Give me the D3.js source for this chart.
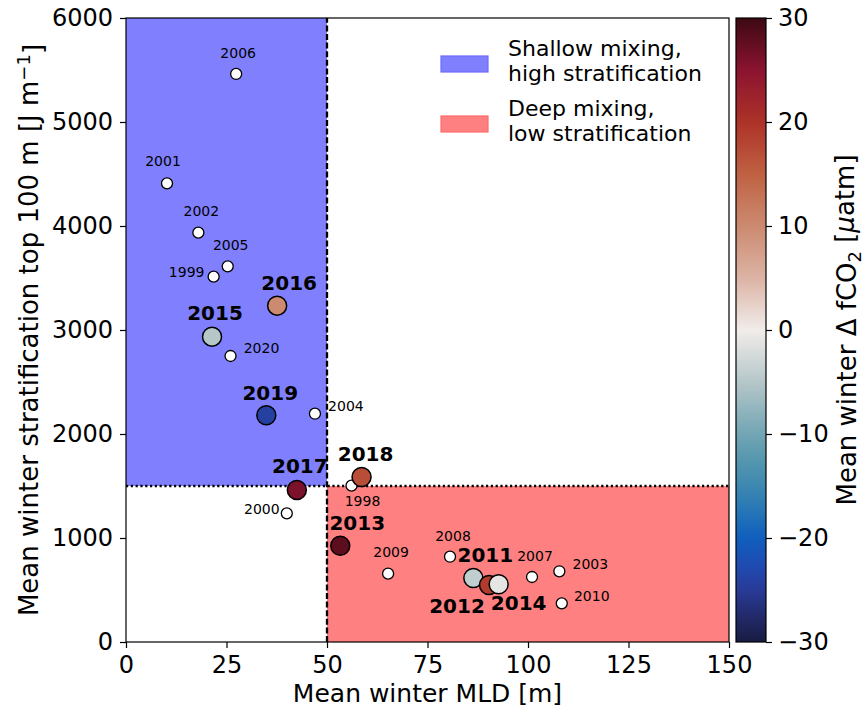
<!DOCTYPE html>
<html>
<head>
<meta charset="utf-8">
<script src="https://cdn.jsdelivr.net/npm/d3@7"></script>
<style>
  body { margin: 0; background: #fff; }
  text { font-family: "DejaVu Sans", sans-serif; fill: #000; }
</style>
</head>
<body>
<svg id="chart" width="865" height="711"></svg>
<script>
// Winter mixing vs. stratification, one point per year
const years = [1998, 1999, 2000, 2001, 2002, 2003, 2004, 2005, 2006, 2007, 2008, 2009, 2010,
               2011, 2012, 2013, 2014, 2015, 2016, 2017, 2018, 2019, 2020];
const mld   = [56.1, 21.8, 40.0, 10.2, 18.0, 107.8, 47.0, 25.3, 27.4, 101.0, 80.6, 65.2, 108.4,
               86.4, 90.3, 53.3, 92.7, 21.4, 37.6, 42.5, 58.6, 34.9, 26.0];
const strat = [1503, 3513, 1237, 4410, 3936, 680, 2195, 3612, 5462, 625, 820, 657, 372,
               615, 548, 926, 555, 2936, 3234, 1462, 1587, 2180, 2750];
// Mean winter delta fCO2 (only available 2011-2019)
const dfco2 = [null, null, null, null, null, null, null, null, null, null, null, null, null,
               -4, 19, 28, -1, -5, 10, 26, 17, -24, null];

// Regime thresholds
const mldThreshold = 50;
const stratThreshold = 1500;

// Axis ticks
const xTicks = [0, 25, 50, 75, 100, 125, 150];
const yTicks = [0, 1000, 2000, 3000, 4000, 5000, 6000];
const cTicks = [-30, -20, -10, 0, 10, 20, 30];

// Legend entries
const legendLabels = [["Shallow mixing,", "high stratification"], ["Deep mixing,", "low stratification"]];

// Colormap (diverging, navy - blue - white - red - maroon)
const cmapStops = [-30, -27.5, -25, -22.5, -20, -17.5, -15, -12.5, -10, -5, 0, 5, 10, 15, 20, 25, 30];
const cmapColors = ["#181c43", "#222a6a", "#283a98", "#1f4cb2", "#0f5fbe", "#2675b7", "#3d88b0",
                    "#5597af", "#72a5b4", "#b5c7c9", "#f1ecea", "#dcb3a4", "#cc8a70", "#bf6142",
                    "#ad3228", "#8b1330", "#3c0912"];

// Label placement around each point (pixel offsets of the label centre)
const labelOffset = {
  1998: [11, 15], 1999: [-27, -5], 2000: [-25, -4], 2001: [-4, -22], 2002: [3, -22],
  2003: [31, -7], 2004: [31, -8], 2005: [3, -21], 2006: [2, -21], 2007: [3, -21],
  2008: [3, -21], 2009: [3, -22], 2010: [30, -7], 2020: [31, -8],
  2011: [12, -23], 2012: [-32, 21], 2013: [17, -23], 2014: [20, 19], 2015: [3, -24],
  2016: [12, -23], 2017: [3, -24], 2018: [4, -23], 2019: [4, -22]
};

const svg = d3.select("#chart");
const plot = { left: 126, right: 729, top: 18, bottom: 642 };
const cbar = { left: 736, right: 766 };

const x = d3.scaleLinear().domain([0, 150]).range([plot.left, plot.right]);
const y = d3.scaleLinear().domain([0, 6000]).range([plot.bottom, plot.top]);
const cmap = d3.scaleLinear().domain(cmapStops).range(cmapColors).interpolate(d3.interpolateRgb).clamp(true);
const cy = d3.scaleLinear().domain([-30, 30]).range([plot.bottom, plot.top]);

const blueFill = "#8080ff", redFill = "#ff8080";

// Regime shading
svg.append("rect")
  .attr("x", x(0)).attr("y", y(6000))
  .attr("width", x(mldThreshold) - x(0)).attr("height", y(stratThreshold) - y(6000))
  .attr("fill", blueFill);
svg.append("rect")
  .attr("x", x(mldThreshold)).attr("y", y(stratThreshold))
  .attr("width", x(150) - x(mldThreshold)).attr("height", y(0) - y(stratThreshold))
  .attr("fill", redFill);

// Threshold lines
svg.append("line")
  .attr("x1", x(mldThreshold)).attr("x2", x(mldThreshold))
  .attr("y1", y(0)).attr("y2", y(6000))
  .attr("stroke", "#000").attr("stroke-width", 2.3).attr("stroke-dasharray", "6,2.6");
svg.append("line")
  .attr("x1", x(0)).attr("x2", x(150))
  .attr("y1", y(stratThreshold)).attr("y2", y(stratThreshold))
  .attr("stroke", "#000").attr("stroke-width", 2.3).attr("stroke-dasharray", "2.2,2.6");

// Axes
const xAxis = svg.append("g").attr("transform", `translate(0,${plot.bottom})`)
  .call(d3.axisBottom(x).tickValues(xTicks).tickSize(6).tickPadding(6).tickFormat(d3.format("d")));
const yAxis = svg.append("g").attr("transform", `translate(${plot.left},0)`)
  .call(d3.axisLeft(y).tickValues(yTicks).tickSize(6).tickPadding(7).tickFormat(d3.format("d")));
[xAxis, yAxis].forEach(g => {
  g.selectAll("text").style("font-family", '"DejaVu Sans", sans-serif').style("font-size", "24px").attr("fill", "#000");
  g.selectAll("line").attr("stroke", "#000").attr("stroke-width", 1.2);
  g.select(".domain").remove();
});
xAxis.selectAll("text").attr("dy", "0.78em");

// Frame
svg.append("rect")
  .attr("x", plot.left).attr("y", plot.top)
  .attr("width", plot.right - plot.left).attr("height", plot.bottom - plot.top)
  .attr("fill", "none").attr("stroke", "#000").attr("stroke-width", 1.2);

// Points and year labels
const pts = years.map((yr, i) => ({ yr, mld: mld[i], strat: strat[i], dfco2: dfco2[i] }));
const plain = pts.filter(d => d.dfco2 === null);
const colored = pts.filter(d => d.dfco2 !== null);

svg.append("g").selectAll("circle").data(plain).join("circle")
  .attr("cx", d => x(d.mld)).attr("cy", d => y(d.strat)).attr("r", 5.5)
  .attr("fill", "#fff").attr("stroke", "#000").attr("stroke-width", 1.3);
svg.append("g").selectAll("text").data(plain).join("text")
  .attr("x", d => x(d.mld) + labelOffset[d.yr][0]).attr("y", d => y(d.strat) + labelOffset[d.yr][1])
  .attr("text-anchor", "middle").attr("dominant-baseline", "central")
  .style("font-size", "14px").text(d => d.yr);

svg.append("g").selectAll("circle").data(colored).join("circle")
  .attr("cx", d => x(d.mld)).attr("cy", d => y(d.strat)).attr("r", 9.5)
  .attr("fill", d => cmap(d.dfco2)).attr("stroke", "#000").attr("stroke-width", 1.5);
svg.append("g").selectAll("text").data(colored).join("text")
  .attr("x", d => x(d.mld) + labelOffset[d.yr][0]).attr("y", d => y(d.strat) + labelOffset[d.yr][1])
  .attr("text-anchor", "middle").attr("dominant-baseline", "central")
  .style("font-size", "20px").style("font-weight", "bold").text(d => d.yr);

// Legend
const legend = svg.append("g");
const legendFills = [[blueFill, "#6b6bff"], [redFill, "#ff6b6b"]];
legendLabels.forEach((lines, i) => {
  const top = 56 + i * 60;
  legend.append("rect").attr("x", 441).attr("y", top).attr("width", 47).attr("height", 16)
    .attr("fill", legendFills[i][0]).attr("stroke", legendFills[i][1]).attr("stroke-width", 1.2);
  lines.forEach((t, j) => {
    legend.append("text").attr("x", 508).attr("y", top - 8 + j * 25)
      .attr("dominant-baseline", "central").style("font-size", "22px").text(t);
  });
});

// Colorbar
const defs = svg.append("defs");
const grad = defs.append("linearGradient").attr("id", "cbgrad")
  .attr("x1", 0).attr("y1", 1).attr("x2", 0).attr("y2", 0);
d3.range(0, 1.0001, 0.01).forEach(t => {
  grad.append("stop").attr("offset", t).attr("stop-color", cmap(-30 + 60 * t));
});
svg.append("rect")
  .attr("x", cbar.left).attr("y", plot.top)
  .attr("width", cbar.right - cbar.left).attr("height", plot.bottom - plot.top)
  .attr("fill", "url(#cbgrad)").attr("stroke", "#000").attr("stroke-width", 1.2);
const cAxis = svg.append("g").attr("transform", `translate(${cbar.right},0)`)
  .call(d3.axisRight(cy).tickValues(cTicks).tickSize(6).tickPadding(6).tickFormat(d3.format("d")));
cAxis.selectAll("text").style("font-family", '"DejaVu Sans", sans-serif').style("font-size", "24px").attr("fill", "#000");
cAxis.selectAll("line").attr("stroke", "#000").attr("stroke-width", 1.2);
cAxis.select(".domain").remove();

// Axis titles
svg.append("text").attr("x", (plot.left + plot.right) / 2).attr("y", 702)
  .attr("text-anchor", "middle").style("font-size", "25px").text("Mean winter MLD [m]");

const yl = svg.append("text").attr("transform", `translate(38,${(plot.top + plot.bottom) / 2}) rotate(-90)`)
  .attr("text-anchor", "middle").style("font-size", "26px");
yl.append("tspan").text("Mean winter stratification top 100 m [J m");
yl.append("tspan").attr("dy", "-0.45em").style("font-size", "18px").text("\u22121");
yl.append("tspan").attr("dy", "0.45em").text("]");

const cl = svg.append("text").attr("transform", `translate(856,${(plot.top + plot.bottom) / 2}) rotate(-90)`)
  .attr("text-anchor", "middle").style("font-size", "26px");
cl.append("tspan").text("Mean winter \u0394 fCO");
cl.append("tspan").attr("dy", "0.3em").style("font-size", "18px").text("2");
cl.append("tspan").attr("dy", "-0.3em").text(" [");
cl.append("tspan").style("font-style", "italic").text("\u03bc");
cl.append("tspan").text("atm]");
</script>
</body>
</html>
